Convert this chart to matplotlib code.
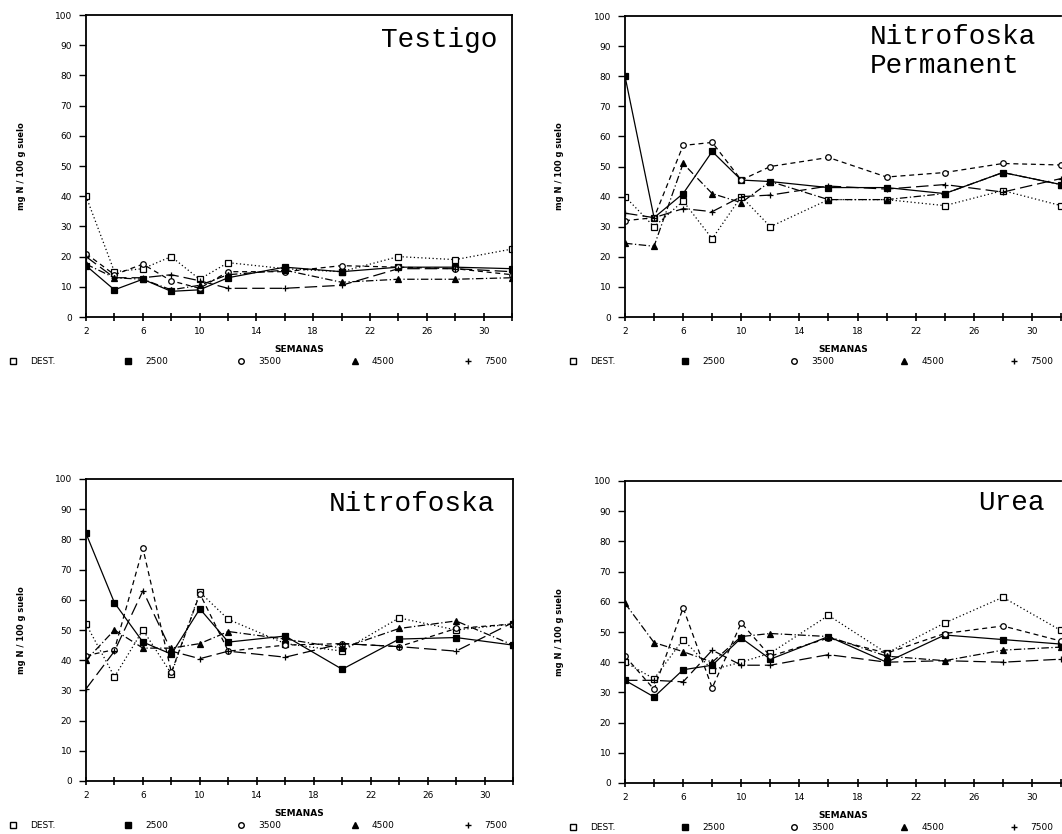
"""curvas de N mineral por tratamiento"""
import matplotlib
matplotlib.use("Agg")
from matplotlib import pyplot as plt
from matplotlib.lines import Line2D
from matplotlib.ticker import MultipleLocator

SEMANAS = [2, 4, 6, 8, 10, 12, 16, 20, 24, 28, 32]
DOSIS = ["DEST.", "2500", "3500", "4500", "7500"]

# Testigo
testigo_dest = [40, 15, 16, 20, 12.5, 18, 16, 15, 20, 19, 22.5]
testigo_2500 = [17, 9, 12.5, 8.5, 9, 13, 16.5, 15, 16.5, 16.5, 16]
testigo_3500 = [21, 14, 17.5, 12, 9.5, 15, 15, 17, 16.5, 16, 14]
testigo_4500 = [17.5, 13, 12.5, 9, 10.5, 14, 15.5, 11.5, 12.5, 12.5, 13]
testigo_7500 = [20, 13, 13, 14, 12, 9.5, 9.5, 10.5, 16, 16, 15]

# Nitrofoska Permanent
perm_dest = [40, 30, 38.5, 26, 40, 30, 39, 39, 37, 42, 37]
perm_2500 = [80, 33, 41, 55, 45.5, 45, 43, 43, 41, 48, 44]
perm_3500 = [32, 33, 57, 58, 45.5, 50, 53, 46.5, 48, 51, 50.5]
perm_4500 = [24.5, 23.5, 51, 41, 38, 45, 39, 39, 41, 48, 44]
perm_7500 = [34.5, 33, 36, 35, 40, 40.5, 43.5, 42.5, 44, 41.5, 46]

# Nitrofoska
nitro_dest = [52, 34.5, 50, 35.5, 62.5, 53.5, 45.5, 43, 54, 50, 52]
nitro_2500 = [82, 59, 46, 42, 57, 46, 48, 37, 47, 47.5, 45]
nitro_3500 = [41.5, 43.5, 77, 36, 62, 43, 45, 45.5, 44.5, 50.5, 52]
nitro_4500 = [40, 50, 44, 44, 45.5, 49.5, 47, 44, 50.5, 53, 45]
nitro_7500 = [30.5, 43, 63, 43, 40.5, 43, 41, 45.5, 44.5, 43, 52.5]

# Urea
urea_dest = [40, 34.5, 47.5, 37.5, 40, 43, 55.5, 43, 53, 61.5, 50.5]
urea_2500 = [34, 28.5, 37.5, 39, 48, 41, 48.5, 40, 49, 47.5, 46]
urea_3500 = [42, 31, 58, 31.5, 53, 42, 48, 43, 49.5, 52, 47]
urea_4500 = [59.5, 46.5, 43.5, 40, 48.5, 49.5, 48.5, 42, 40.5, 44, 45]
urea_7500 = [34, 34, 33.5, 44, 39, 39, 42.5, 40, 40.5, 40, 41]

STYLES = [
    dict(marker="s", mfc="white", ls=(0, (1, 2))),
    dict(marker="s", mfc="black", ls="-"),
    dict(marker="o", mfc="white", ls=(0, (4, 3))),
    dict(marker="^", mfc="black", ls=(0, (6, 2, 1, 2))),
    dict(marker="+", mfc="black", ls=(0, (10, 4))),
]

W, H = 1062, 834
fig = plt.figure(figsize=(W / 100, H / 100), dpi=100)

PANELS = [
    ("Testigo", [testigo_dest, testigo_2500, testigo_3500, testigo_4500, testigo_7500],
     (86, 512, 15, 317), (0.965, 0.96, "right")),
    ("Nitrofoska\nPermanent", [perm_dest, perm_2500, perm_3500, perm_4500, perm_7500],
     (625, 1061, 16, 317), (0.562, 0.975, "left")),
    ("Nitrofoska", [nitro_dest, nitro_2500, nitro_3500, nitro_4500, nitro_7500],
     (86, 513, 479, 781), (0.958, 0.96, "right")),
    ("Urea", [urea_dest, urea_2500, urea_3500, urea_4500, urea_7500],
     (625, 1061, 481, 783), (0.963, 0.97, "right")),
]

for i, (titulo, series, (x0, x1, y0, y1), (tx, ty, ha)) in enumerate(PANELS):
    ax = fig.add_axes([x0 / W, 1 - y1 / H, (x1 - x0) / W, (y1 - y0) / H])
    for valores, st in zip(series, STYLES):
        ax.plot(SEMANAS, valores, color="black", lw=0.9, ls=st["ls"],
                marker=st["marker"], ms=4, mfc=st["mfc"], mec="black", mew=0.9)
    ax.set_xlim(2, 32)
    ax.set_ylim(0, 100)
    ax.xaxis.set_minor_locator(MultipleLocator(2))
    ax.set_xticks([2, 6, 10, 14, 18, 22, 26, 30])
    ax.yaxis.set_major_locator(MultipleLocator(10))
    ax.tick_params(axis="x", which="both", direction="inout", length=6, width=1.2,
                   labelsize=6.5, pad=4)
    ax.tick_params(axis="y", direction="out", length=5, width=1, labelsize=6.5, pad=5)
    for sp in ax.spines.values():
        sp.set_linewidth(1.3)
    if i % 2 == 1:
        ax.spines["right"].set_visible(False)
    ax.set_xlabel("SEMANAS", fontsize=6.5, fontweight="bold", labelpad=7)
    ax.set_ylabel("mg N / 100 g suelo", fontsize=6, fontweight="bold")
    ax.yaxis.set_label_coords(-0.14, 0.5)
    ax.text(tx, ty, titulo, transform=ax.transAxes, ha=ha, va="top",
            family="Liberation Mono", fontsize=20, linespacing=1.15)

    handles = [Line2D([], [], color="black", ls="None", marker=st["marker"], ms=4,
                      mfc=st["mfc"], mec="black") for st in STYLES]
    if i % 2 == 0:
        lx, lw = 2, 512
    else:
        lx, lw = 562, 498
    ly = 1 - (y1 + 45) / H
    fig.legend(handles, DOSIS, loc="center left", ncol=5, frameon=False,
               bbox_to_anchor=(lx / W, ly, lw / W, 0.001), mode="expand",
               fontsize=6.5, handletextpad=1.4, handlelength=1.0, borderpad=0.2)

fig.savefig("out.png", dpi=100)
